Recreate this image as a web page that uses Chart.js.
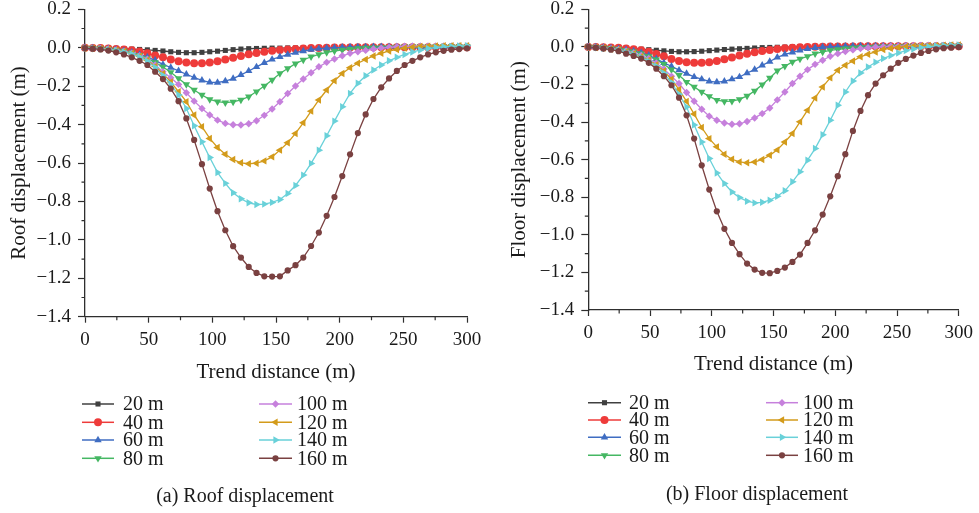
<!DOCTYPE html>
<html><head><meta charset="utf-8">
<script src="https://cdn.jsdelivr.net/npm/chart.js@4.4.1/dist/chart.umd.min.js"></script>
<style>
html,body{margin:0;padding:0;background:#fff;width:979px;height:513px;overflow:hidden;position:relative;}
canvas{position:absolute;}
#c1{left:0;top:-10px;}
#c2{left:490px;top:-10px;}
</style></head><body>
<canvas id="c1" width="490" height="523"></canvas>
<canvas id="c2" width="489" height="523"></canvas>
<script>
// Trend distance positions (m)
const xs = [0,6.12,12.24,18.37,24.49,30.61,36.73,42.86,48.98,55.1,
  61.22,67.35,73.47,79.59,85.71,91.84,97.96,104.08,110.2,116.33,
  122.45,128.57,134.69,140.82,146.94,153.06,159.18,165.31,171.43,177.55,
  183.67,189.8,195.92,202.04,208.16,214.29,220.41,226.53,232.65,238.78,
  244.9,251.02,257.14,263.27,269.39,275.51,281.63,287.76,293.88,300];

const seriesNames = ['20 m','40 m','60 m','80 m','100 m','120 m','140 m','160 m'];

// Roof displacement (m)
const roof20 = [-0.001,-0.001,-0.002,-0.003,-0.004,-0.005,-0.007,-0.009,-0.011,-0.014,
  -0.017,-0.021,-0.024,-0.026,-0.026,-0.024,-0.021,-0.018,-0.014,-0.010,
  -0.007,-0.005,-0.004,-0.003,-0.002,-0.002,-0.001,-0.001,0.000,0.000,
  0.001,0.001,0.001,0.001,0.002,0.002,0.002,0.002,0.002,0.002,
  0.002,0.002,0.002,0.002,0.002,0.002,0.002,0.002,0.002,0.002];
const roof40 = [0.000,-0.001,-0.002,-0.004,-0.006,-0.009,-0.013,-0.019,-0.029,-0.040,
  -0.050,-0.061,-0.071,-0.077,-0.081,-0.081,-0.077,-0.070,-0.061,-0.052,
  -0.043,-0.034,-0.027,-0.021,-0.016,-0.012,-0.009,-0.006,-0.004,-0.002,
  -0.001,0.000,0.001,0.001,0.001,0.002,0.002,0.002,0.002,0.002,
  0.002,0.003,0.003,0.003,0.003,0.003,0.003,0.003,0.003,0.003];
const roof60 = [-0.001,-0.002,-0.004,-0.006,-0.010,-0.016,-0.024,-0.035,-0.049,-0.066,
  -0.087,-0.103,-0.120,-0.138,-0.155,-0.170,-0.180,-0.181,-0.174,-0.161,
  -0.141,-0.121,-0.100,-0.079,-0.061,-0.047,-0.036,-0.026,-0.017,-0.010,
  -0.005,-0.002,0.000,0.002,0.003,0.004,0.004,0.005,0.005,0.005,
  0.005,0.005,0.005,0.005,0.005,0.005,0.005,0.005,0.005,0.005];
const roof80 = [-0.001,-0.002,-0.004,-0.007,-0.011,-0.017,-0.026,-0.038,-0.055,-0.076,
  -0.100,-0.128,-0.160,-0.191,-0.220,-0.246,-0.269,-0.281,-0.286,-0.282,
  -0.272,-0.255,-0.228,-0.199,-0.168,-0.134,-0.108,-0.083,-0.064,-0.047,
  -0.035,-0.024,-0.017,-0.011,-0.007,-0.003,-0.001,0.001,0.002,0.003,
  0.004,0.005,0.005,0.005,0.005,0.005,0.005,0.005,0.005,0.005];
const roof100 = [-0.001,-0.002,-0.004,-0.007,-0.012,-0.019,-0.028,-0.041,-0.060,-0.090,
  -0.125,-0.156,-0.191,-0.234,-0.278,-0.316,-0.350,-0.377,-0.394,-0.401,
  -0.402,-0.396,-0.380,-0.352,-0.319,-0.281,-0.238,-0.199,-0.163,-0.130,
  -0.099,-0.076,-0.059,-0.042,-0.029,-0.021,-0.014,-0.007,-0.002,0.002,
  0.005,0.007,0.008,0.008,0.008,0.008,0.008,0.008,0.008,0.008];
const roof120 = [-0.001,-0.002,-0.004,-0.008,-0.013,-0.020,-0.030,-0.044,-0.065,-0.097,
  -0.135,-0.178,-0.229,-0.281,-0.350,-0.411,-0.472,-0.519,-0.554,-0.582,
  -0.599,-0.604,-0.601,-0.589,-0.568,-0.533,-0.495,-0.446,-0.391,-0.330,
  -0.272,-0.220,-0.172,-0.134,-0.104,-0.081,-0.061,-0.043,-0.029,-0.017,
  -0.009,-0.002,0.003,0.006,0.008,0.009,0.010,0.010,0.010,0.010];
const roof140 = [-0.001,-0.002,-0.005,-0.009,-0.014,-0.022,-0.033,-0.048,-0.070,-0.103,
  -0.145,-0.190,-0.246,-0.316,-0.406,-0.490,-0.571,-0.649,-0.706,-0.755,
  -0.786,-0.807,-0.816,-0.814,-0.805,-0.790,-0.759,-0.717,-0.663,-0.602,
  -0.533,-0.458,-0.382,-0.307,-0.238,-0.185,-0.146,-0.116,-0.090,-0.068,
  -0.050,-0.035,-0.022,-0.012,-0.004,0.001,0.005,0.007,0.009,0.010];
const roof160 = [-0.002,-0.005,-0.009,-0.015,-0.024,-0.035,-0.050,-0.068,-0.090,-0.125,
  -0.163,-0.213,-0.278,-0.368,-0.480,-0.606,-0.733,-0.851,-0.950,-1.033,
  -1.092,-1.141,-1.172,-1.190,-1.191,-1.190,-1.159,-1.132,-1.092,-1.032,
  -0.962,-0.875,-0.777,-0.668,-0.555,-0.444,-0.347,-0.267,-0.206,-0.160,
  -0.121,-0.090,-0.068,-0.050,-0.035,-0.024,-0.016,-0.010,-0.007,-0.003];

// Floor displacement (m)
const floor20 = [0.000,-0.001,-0.002,-0.003,-0.005,-0.007,-0.009,-0.012,-0.015,-0.018,
  -0.021,-0.024,-0.026,-0.026,-0.025,-0.023,-0.020,-0.017,-0.014,-0.012,
  -0.010,-0.008,-0.006,-0.004,-0.003,-0.002,-0.001,0.000,0.001,0.001,
  0.001,0.002,0.002,0.002,0.002,0.002,0.002,0.002,0.003,0.003,
  0.003,0.003,0.003,0.003,0.003,0.003,0.003,0.003,0.003,0.003];
const floor40 = [0.000,-0.001,-0.002,-0.003,-0.005,-0.008,-0.012,-0.018,-0.026,-0.038,
  -0.050,-0.064,-0.075,-0.082,-0.085,-0.085,-0.082,-0.075,-0.066,-0.057,
  -0.046,-0.036,-0.029,-0.022,-0.017,-0.011,-0.007,-0.004,-0.002,0.000,
  0.001,0.001,0.002,0.002,0.002,0.002,0.003,0.003,0.003,0.003,
  0.003,0.003,0.003,0.003,0.003,0.003,0.003,0.003,0.003,0.003];
const floor60 = [0.000,-0.001,-0.003,-0.006,-0.010,-0.015,-0.022,-0.031,-0.045,-0.064,
  -0.085,-0.103,-0.124,-0.142,-0.160,-0.172,-0.183,-0.187,-0.183,-0.172,
  -0.160,-0.139,-0.121,-0.098,-0.078,-0.056,-0.040,-0.029,-0.019,-0.011,
  -0.005,-0.001,0.001,0.002,0.003,0.004,0.004,0.004,0.005,0.005,
  0.005,0.005,0.005,0.005,0.005,0.005,0.005,0.005,0.005,0.005];
const floor80 = [0.000,-0.002,-0.004,-0.007,-0.011,-0.017,-0.025,-0.036,-0.050,-0.068,
  -0.092,-0.121,-0.151,-0.187,-0.213,-0.240,-0.263,-0.283,-0.290,-0.289,
  -0.279,-0.261,-0.234,-0.201,-0.165,-0.127,-0.103,-0.080,-0.064,-0.050,
  -0.036,-0.027,-0.018,-0.013,-0.009,-0.006,-0.003,-0.001,0.001,0.002,
  0.003,0.004,0.005,0.005,0.005,0.005,0.005,0.005,0.005,0.005];
const floor100 = [0.000,-0.002,-0.005,-0.009,-0.015,-0.022,-0.032,-0.045,-0.062,-0.086,
  -0.118,-0.156,-0.195,-0.243,-0.289,-0.332,-0.369,-0.390,-0.405,-0.412,
  -0.409,-0.397,-0.378,-0.355,-0.325,-0.282,-0.240,-0.195,-0.156,-0.121,
  -0.093,-0.071,-0.050,-0.036,-0.025,-0.016,-0.009,-0.004,-0.001,0.001,
  0.003,0.004,0.005,0.006,0.007,0.007,0.008,0.008,0.008,0.008];
const floor120 = [0.000,-0.003,-0.006,-0.011,-0.017,-0.026,-0.037,-0.051,-0.070,-0.095,
  -0.128,-0.172,-0.227,-0.290,-0.357,-0.429,-0.488,-0.532,-0.571,-0.598,
  -0.612,-0.617,-0.613,-0.599,-0.577,-0.548,-0.506,-0.461,-0.399,-0.337,
  -0.272,-0.213,-0.165,-0.124,-0.098,-0.075,-0.053,-0.039,-0.027,-0.014,
  -0.007,-0.002,0.001,0.004,0.006,0.007,0.008,0.009,0.010,0.010];
const floor140 = [0.000,-0.003,-0.007,-0.012,-0.019,-0.028,-0.040,-0.055,-0.076,-0.103,
  -0.140,-0.190,-0.252,-0.320,-0.415,-0.506,-0.594,-0.671,-0.727,-0.772,
  -0.802,-0.821,-0.830,-0.827,-0.816,-0.795,-0.766,-0.718,-0.665,-0.603,
  -0.541,-0.467,-0.390,-0.311,-0.240,-0.181,-0.139,-0.107,-0.082,-0.062,
  -0.046,-0.032,-0.020,-0.011,-0.004,0.001,0.005,0.007,0.009,0.010];
const floor160 = [0.000,-0.004,-0.009,-0.015,-0.023,-0.036,-0.048,-0.062,-0.085,-0.116,
  -0.156,-0.204,-0.270,-0.364,-0.488,-0.630,-0.759,-0.875,-0.968,-1.043,
  -1.103,-1.153,-1.185,-1.202,-1.204,-1.192,-1.174,-1.144,-1.105,-1.043,
  -0.976,-0.892,-0.795,-0.688,-0.571,-0.447,-0.341,-0.257,-0.195,-0.151,
  -0.116,-0.085,-0.064,-0.046,-0.032,-0.022,-0.013,-0.007,-0.004,-0.001];

// Axis tick values
const xMinorTicks = [25,75,125,175,225,275];
const yMinorTicks = [0.1,-0.1,-0.3,-0.5,-0.7,-0.9,-1.1,-1.3];

// Styles
const colors = ['#404040','#ee3b3a','#3f6dc2','#45b763','#c680dc','#d39b1b','#69d1d9','#7a4141'];
const pStyles = ['rect','circle','triangle','triangle','rectRot','triangle','triangle','circle'];
const pRot = [0,0,0,180,0,270,90,0];
const pRad = [3.6,4.0,4.3,4.3,3.7,4.3,4.3,3.1];
const FONT = '"Liberation Serif", "Times New Roman", serif';
const INK = '#1a1a1a';
const AXIS = '#2e2e2e';

function fmtY(v){
  if (Math.abs(v) < 1e-9) v = 0;
  return v.toFixed(1).replace('-', '\u2212');
}

function build(id, yTitle, caption, series, G){
  const datasets = series.map((vals, i) => ({
    label: seriesNames[i],
    data: xs.map((x, k) => ({x: x, y: vals[k]})),
    borderColor: colors[i], backgroundColor: colors[i],
    pointBackgroundColor: colors[i], pointBorderColor: colors[i], pointBorderWidth: 0,
    pointRadius: pRad[i], pointHoverRadius: pRad[i], pointStyle: pStyles[i], pointRotation: pRot[i],
    borderWidth: 1.3, tension: 0, fill: false, order: 7 - i, clip: false
  }));
  const deco = {
    id: 'deco',
    afterDraw(chart){
      const ctx = chart.ctx, xsc = chart.scales.x, ysc = chart.scales.y, a = chart.chartArea;
      ctx.save();
      ctx.strokeStyle = AXIS; ctx.lineWidth = 1.2;
      ctx.beginPath();
      for (const v of xMinorTicks){ const px = xsc.getPixelForValue(v); ctx.moveTo(px, a.bottom); ctx.lineTo(px, a.bottom + 3.5); }
      for (const v of yMinorTicks){ const py = ysc.getPixelForValue(v); ctx.moveTo(a.left - 3.5, py); ctx.lineTo(a.left, py); }
      ctx.stroke();
      // legend
      chart.data.datasets.forEach((ds, i) => {
        const col = Math.floor(i / 4), row = i % 4;
        const y = G.legRows[row], x0 = G.legLine[col][0], x1 = G.legLine[col][1];
        ctx.strokeStyle = ds.borderColor; ctx.lineWidth = 1.5;
        ctx.beginPath(); ctx.moveTo(x0, y); ctx.lineTo(x1, y); ctx.stroke();
        ctx.fillStyle = ds.pointBackgroundColor;
        Chart.helpers.drawPoint(ctx, {pointStyle: ds.pointStyle, rotation: ds.pointRotation, radius: ds.pointRadius, borderWidth: 0}, (x0 + x1) / 2, y);
        ctx.fillStyle = INK; ctx.font = '20px ' + FONT; ctx.textAlign = 'left'; ctx.textBaseline = 'middle';
        ctx.fillText(ds.label, G.legText[col], y + 1);
      });
      ctx.fillStyle = INK; ctx.font = '20px ' + FONT; ctx.textAlign = 'center'; ctx.textBaseline = 'middle';
      ctx.fillText(caption, G.capX, G.capY);
      ctx.restore();
    }
  };
  const cfg = {
    type: 'line',
    data: {datasets},
    options: {
      responsive: false, animation: false, devicePixelRatio: 1, events: [],
      layout: {padding: {left: 0, right: G.W - G.right, top: G.top, bottom: 100}},
      plugins: {legend: {display: false}, tooltip: {enabled: false}},
      scales: {
        x: {
          type: 'linear', min: 0, max: 300,
          ticks: {stepSize: 50, autoSkip: false, maxRotation: 0, color: INK, padding: 6, font: {family: FONT, size: 19}},
          grid: {drawOnChartArea: false, drawTicks: true, tickLength: 6, tickColor: AXIS, tickWidth: 1.2},
          border: {display: true, color: AXIS, width: 1.3},
          title: {display: true, text: 'Trend distance (m)', color: INK, padding: 0, font: {family: FONT, size: 21}},
          afterFit: s => { s.height = G.xh; }
        },
        y: {
          type: 'linear', min: -1.4, max: 0.2,
          ticks: {stepSize: 0.2, color: INK, padding: 7, font: {family: FONT, size: 19}, callback: v => fmtY(v)},
          grid: {drawOnChartArea: false, drawTicks: true, tickLength: 7, tickColor: AXIS, tickWidth: 1.2},
          border: {display: true, color: AXIS, width: 1.3},
          title: {display: true, text: yTitle, color: INK, padding: {top: G.ytPad, bottom: 0}, font: {family: FONT, size: 21}},
          afterFit: s => { s.width = G.left; }
        }
      }
    },
    plugins: [deco]
  };
  const ch = new Chart(document.getElementById(id), cfg);
  const p = cfg.options.layout.padding;
  for (let it = 0; it < 6; it++){
    const a = ch.chartArea;
    const dt = G.top - a.top, db = a.bottom - G.bottom, dr = a.right - G.right, dl = G.left - a.left;
    if (Math.abs(dt) + Math.abs(db) + Math.abs(dr) + Math.abs(dl) < 0.05) break;
    p.top += dt; p.bottom += db; p.right += dr; p.left += dl;
    ch.update('none');
  }
  return ch;
}

build('c1', 'Roof displacement (m)', '(a) Roof displacement',
  [roof20, roof40, roof60, roof80, roof100, roof120, roof140, roof160],
  {W: 490, left: 85, right: 467, top: 19.3, bottom: 326.7, xh: 67.9, ytPad: 6.9,
   legRows: [414, 432.3, 450, 468.3], legLine: [[82, 114], [259, 292]], legText: [123, 297],
   capX: 245, capY: 506.7});

build('c2', 'Floor displacement (m)', '(b) Floor displacement',
  [floor20, floor40, floor60, floor80, floor100, floor120, floor140, floor160],
  {W: 489, left: 98.3, right: 470.7, top: 19.3, bottom: 320, xh: 66.6, ytPad: 16.9,
   legRows: [412.7, 430, 447.3, 465.3], legLine: [[98, 131], [276, 308]], legText: [139, 313],
   capX: 267, capY: 505});
</script>
</body></html>
